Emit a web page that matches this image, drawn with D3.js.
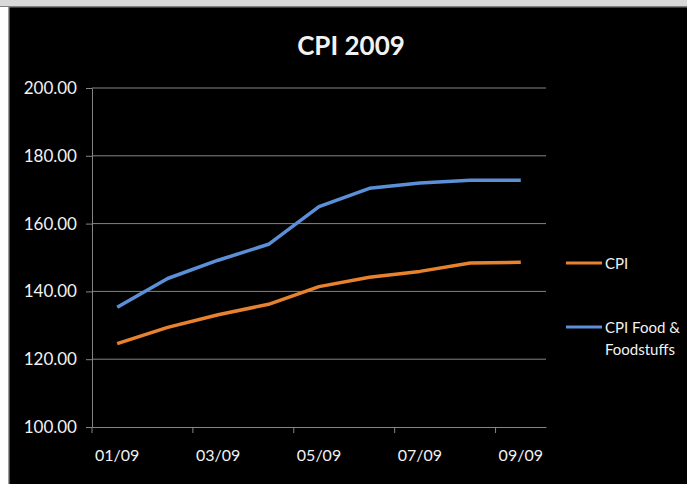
<!DOCTYPE html>
<html>
<head>
<meta charset="utf-8">
<script src="https://cdn.jsdelivr.net/npm/d3@7"></script>
<style>
  body { margin: 0; background: #000; }
  svg { display: block; }
  text { font-family: Lato, "Open Sans", sans-serif; fill: #f2f2f2; }
</style>
</head>
<body>
<svg width="687" height="484"></svg>
<script>
// data
var months = ["01/09", "02/09", "03/09", "04/09", "05/09", "06/09", "07/09", "08/09", "09/09"];
var cpi = [124.6, 129.4, 133.1, 136.2, 141.4, 144.2, 145.9, 148.4, 148.6];
var cpiFood = [135.3, 143.8, 149.2, 153.9, 165.0, 170.4, 172.0, 172.8, 172.8];
var yTicks = [100, 120, 140, 160, 180, 200];
var seriesNames = ["CPI", "CPI Food & Foodstuffs"];
var seriesColors = ["#e8822e", "#5b90d8"];

var svg = d3.select("svg");
var margin = { top: 88, left: 92, right: 141, bottom: 57 };
var width = 687 - margin.left - margin.right,
  height = 484 - margin.top - margin.bottom;

// frame bits around the chart
svg.append("rect").attr("x", 0).attr("y", 0).attr("width", 687).attr("height", 484).attr("fill", "#000");
svg.append("rect").attr("x", 0).attr("y", 0).attr("width", 687).attr("height", 6).attr("fill", "#d9d9d9");
svg.append("rect").attr("x", 0).attr("y", 6).attr("width", 687).attr("height", 1.5).attr("fill", "#7f7f7f");
svg.append("rect").attr("x", 0).attr("y", 7).attr("width", 8).attr("height", 477).attr("fill", "#ffffff");
svg.append("rect").attr("x", 8).attr("y", 7).attr("width", 1.5).attr("height", 477).attr("fill", "#9a9a9a");

var g = svg.append("g").attr("transform", "translate(" + margin.left + "," + margin.top + ")");

var x = d3.scaleBand().domain(months).range([0, width]).padding(0);
var y = d3.scaleLinear().domain([100, 200]).range([height, 0]);

// gridlines
g.append("g").selectAll("line")
  .data(yTicks.slice(1))
  .enter().append("line")
  .attr("x1", 0).attr("x2", width)
  .attr("y1", function (d) { return y(d); })
  .attr("y2", function (d) { return y(d); })
  .attr("stroke", "#858585").attr("stroke-width", 1);

// y axis
var yAxis = g.append("g")
  .call(d3.axisLeft(y).tickValues(yTicks).tickSize(6).tickSizeOuter(0).tickPadding(9)
    .tickFormat(d3.format(".2f")));
yAxis.selectAll("line, path").attr("stroke", "#858585");
yAxis.selectAll("text").attr("font-size", "17px").style("font-family", "Lato, sans-serif").attr("fill", "#f2f2f2");

// x axis: labels every other month, ticks on band boundaries
var shown = months.filter(function (d, i) { return i % 2 == 0; });
var xAxis = g.append("g")
  .attr("transform", "translate(0," + height + ")")
  .call(d3.axisBottom(x).tickValues(shown).tickSize(0).tickSizeOuter(0).tickPadding(23));
xAxis.select("path").attr("stroke", "#858585");
xAxis.selectAll("text").attr("font-size", "16px").style("font-family", "Lato, sans-serif").attr("fill", "#f2f2f2");
xAxis.selectAll(".bound")
  .data(shown)
  .enter().append("line")
  .attr("class", "bound")
  .attr("x1", function (d) { return x(d); })
  .attr("x2", function (d) { return x(d); })
  .attr("y1", 0).attr("y2", 6)
  .attr("stroke", "#858585");

// lines
var line = d3.line()
  .x(function (d, i) { return x(months[i]) + x.bandwidth() / 2; })
  .y(function (d) { return y(d); });

[cpi, cpiFood].forEach(function (s, k) {
  g.append("path")
    .datum(s)
    .attr("fill", "none")
    .attr("stroke", seriesColors[k])
    .attr("stroke-width", 3.5)
    .attr("stroke-linejoin", "round")
    .attr("d", line);
});

// title
svg.append("text")
  .attr("x", 351).attr("y", 55)
  .attr("text-anchor", "middle")
  .attr("font-size", "26px")
  .attr("font-weight", "bold")
  .text("CPI 2009");

// legend
var legend = svg.selectAll(".legend")
  .data(seriesNames)
  .enter().append("g")
  .attr("class", "legend")
  .attr("transform", function (d, i) { return "translate(566," + (263 + i * 64) + ")"; });

legend.append("line")
  .attr("x1", 0).attr("x2", 36)
  .attr("stroke", function (d, i) { return seriesColors[i]; })
  .attr("stroke-width", 3);

legend.append("text")
  .attr("x", 39).attr("y", 6)
  .attr("font-size", "15px")
  .each(function (d) {
    var t = d3.select(this);
    if (d == "CPI") { t.text(d); return; }
    t.append("tspan").attr("x", 39).text("CPI Food &");
    t.append("tspan").attr("x", 39).attr("dy", 22).text("Foodstuffs");
  });
</script>
</body>
</html>
